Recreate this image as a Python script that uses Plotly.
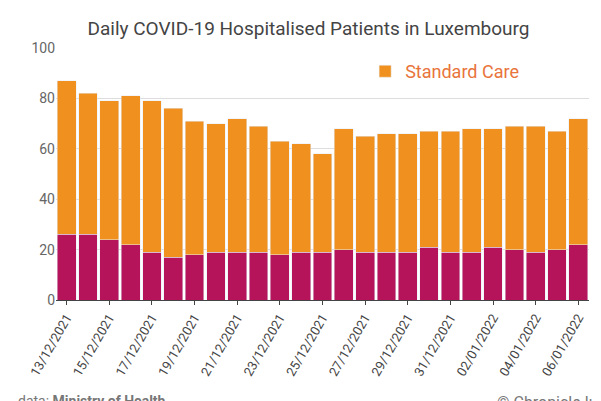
import plotly.graph_objects as go
import pandas as pd

dates = pd.date_range("2021-12-13", "2022-01-06").strftime("%d/%m/%Y").tolist()
totals = [87, 82, 79, 81, 79, 76, 71, 70, 72, 69, 63, 62, 58, 68, 65, 66, 66, 67, 67, 68, 68, 69, 69, 67, 72]
intensive = [26, 26, 24, 22, 19, 17, 18, 19, 19, 19, 18, 19, 19, 20, 19, 19, 19, 21, 19, 19, 21, 20, 19, 20, 22]
standard = [t - i for t, i in zip(totals, intensive)]

fig = go.Figure()
fig.add_trace(go.Bar(x=dates, y=intensive, name="Intensive Care", marker_color="#b5135a",
                     legend="legend"))
fig.add_trace(go.Bar(x=dates, y=standard, name="Standard Care", marker_color="#f0901e",
                     legend="legend2"))

fig.update_layout(
    barmode="stack",
    bargap=0.12,
    width=601,
    height=401,
    paper_bgcolor="white",
    plot_bgcolor="white",
    font=dict(family="Roboto", color="#555", size=14),
    title=dict(text="Daily COVID-19 Hospitalised Patients in Luxembourg",
               x=0.5, xanchor="center", y=0.965, font=dict(size=19, color="#444")),
    margin=dict(l=48, r=20, t=40, b=109),
    legend=dict(x=0.17, xanchor="left", y=0.98, yanchor="top",
                font=dict(size=18, color="#b5135a"), bgcolor="rgba(0,0,0,0)"),
    legend2=dict(x=0.58, xanchor="left", y=0.98, yanchor="top",
                 font=dict(size=18, color="#e8743b"), bgcolor="rgba(0,0,0,0)"),
)
fig.update_xaxes(tickangle=-60, tickvals=dates[::2], tickfont=dict(size=13, color="#444"),
                 showline=True, linecolor="#444", ticks="outside", ticklen=4, automargin=False)
fig.update_yaxes(range=[0, 100], dtick=20, gridcolor="#ddd", tickfont=dict(size=14, color="#666"),
                 zeroline=False, automargin=False)
fig.add_annotation(text="data: <b>Ministry of Health</b>", xref="paper", yref="paper",
                   x=-0.075, y=-0.36, xanchor="left", yanchor="top", showarrow=False,
                   font=dict(size=14, color="#777"))
fig.add_annotation(text="© Chronicle.lu", xref="paper", yref="paper",
                   x=1.02, y=-0.36, xanchor="right", yanchor="top", showarrow=False,
                   font=dict(size=16, color="#777"))
fig.write_html("out.html")
